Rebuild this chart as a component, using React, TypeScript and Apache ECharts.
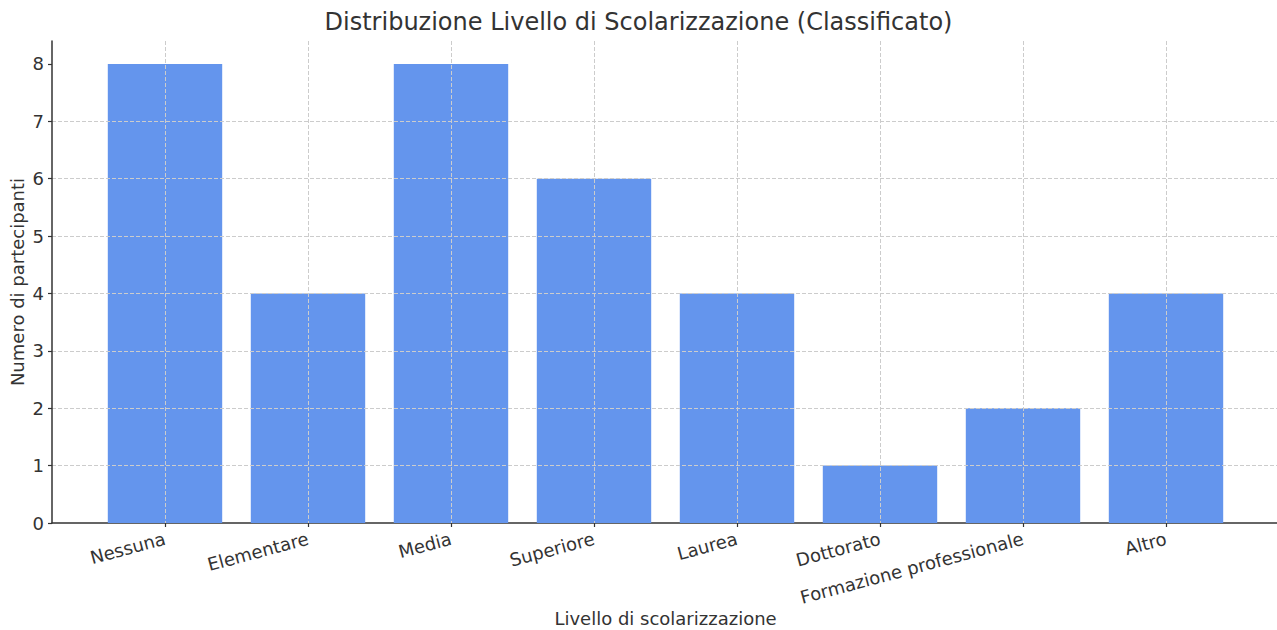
import React, { useEffect, useRef } from "react";
import * as echarts from "echarts";

const categories = [
  "Nessuna",
  "Elementare",
  "Media",
  "Superiore",
  "Laurea",
  "Dottorato",
  "Formazione professionale",
  "Altro",
];
const counts = [8, 4, 8, 6, 4, 1, 2, 4];
const yTicks = [0, 1, 2, 3, 4, 5, 6, 7, 8];

const titleText = "Distribuzione Livello di Scolarizzazione (Classificato)";
const xName = "Livello di scolarizzazione";
const yName = "Numero di partecipanti";

const FONT = "DejaVu Sans";
const TEXT = "#333333";
const AXIS = "#333333";
const GRID = "#cccccc";

export default function App() {
  const ref = useRef<HTMLDivElement>(null);
  useEffect(() => {
    if (!ref.current) return;
    const chart = echarts.init(ref.current, undefined, { renderer: "svg" });
    chart.setOption({
      animation: false,
      textStyle: { fontFamily: FONT },
      title: {
        text: titleText,
        left: "center",
        top: 5,
        textStyle: { fontFamily: FONT, fontSize: 24, fontWeight: "normal", color: TEXT },
      },
      grid: [
        { left: 52, top: 41, width: 1227, height: 482, outerBoundsMode: "none", containLabel: false },
        { left: 93.5, top: 41, width: 1144, height: 482, outerBoundsMode: "none", containLabel: false },
      ],
      xAxis: [
        {
          gridIndex: 0,
          type: "value",
          min: 0,
          max: 1,
          axisLine: { show: true, lineStyle: { color: AXIS, width: 1.5 } },
          axisTick: { show: false },
          axisLabel: { show: false },
          splitLine: { show: false },
        },
        {
          gridIndex: 1,
          type: "category",
          data: categories,
          boundaryGap: true,
          z: 5,
          axisLine: { show: false },
          axisTick: { show: true, alignWithLabel: true, length: 4, lineStyle: { color: AXIS, width: 1.2 } },
          axisLabel: {
            rotate: 15,
            margin: 15,
            interval: 0,
            fontFamily: FONT,
            fontSize: 18,
            color: TEXT,
          },
          splitLine: {
            show: true,
            alignWithLabel: true,
            lineStyle: { color: GRID, type: [4, 2], width: 1 },
          },
          name: xName,
          nameLocation: "middle",
          nameGap: 86,
          nameMoveOverlap: false,
          nameTextStyle: { fontFamily: FONT, fontSize: 18, color: TEXT },
        },
      ],
      yAxis: [
        {
          gridIndex: 0,
          type: "value",
          min: 0,
          max: 8.4,
          interval: 1,
          z: 5,
          axisLine: { show: true, lineStyle: { color: AXIS, width: 1.5 } },
          axisTick: { show: true, length: 4, customValues: yTicks, lineStyle: { color: AXIS, width: 1.2 } },
          axisLabel: {
            customValues: yTicks,
            margin: 8,
            fontFamily: FONT,
            fontSize: 18,
            color: TEXT,
          },
          splitLine: {
            show: true,
            showMaxLine: false,
            showMinLine: false,
            lineStyle: { color: GRID, type: [4, 2], width: 1 },
          },
          name: yName,
          nameLocation: "middle",
          nameRotate: 90,
          nameGap: 26,
          nameMoveOverlap: false,
          nameTextStyle: { fontFamily: FONT, fontSize: 18, color: TEXT },
        },
        {
          gridIndex: 1,
          type: "value",
          min: 0,
          max: 8.4,
          show: false,
          splitLine: { show: false },
        },
      ],
      series: [
        {
          type: "bar",
          xAxisIndex: 1,
          yAxisIndex: 1,
          data: counts,
          barWidth: "80%",
          itemStyle: { color: "#6495ED" },
          z: 2,
        },
      ],
    });
    return () => chart.dispose();
  }, []);
  return (
    <div
      ref={ref}
      style={{ position: "fixed", left: 0, top: 0, width: 1277, height: 630, background: "#ffffff" }}
    />
  );
}
